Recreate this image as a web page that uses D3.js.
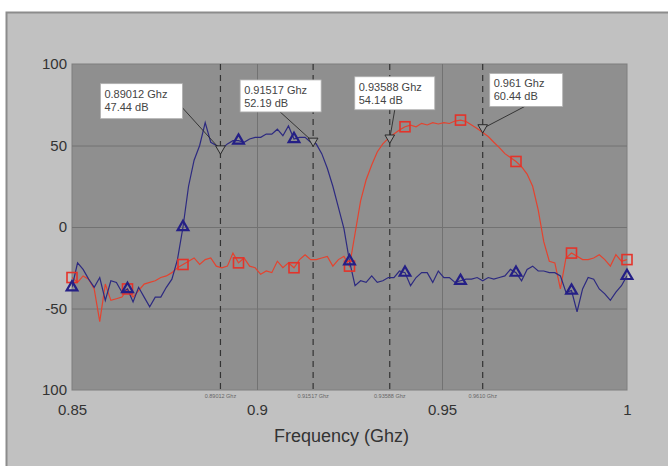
<!DOCTYPE html>
<html>
<head>
<meta charset="utf-8">
<script src="https://cdn.jsdelivr.net/npm/d3@7"></script>
<style>
	body { margin: 0; background: #fff; }
	text { font-family: "Liberation Sans", Arial, sans-serif; }
</style>
</head>
<body>
<div id="wrapper"></div>
<script>
// sample grid 0.85 .. 1.0 Ghz, 101 points
const freqStart = 0.85
const freqStep = 0.0015

const blueDb = [
	-37, -22, -26, -32, -37, -31, -45, -33, -34, -40,
	-38, -46, -37, -43, -49, -43, -43, -37, -32, -20,
	0, 25, 41, 50, 64, 52, 50, 48, 51, 53,
	53, 52, 54, 55, 55, 57, 57, 60, 56, 62,
	54, 55, 55, 52, 51, 45, 36, 25, 12, -1,
	-21, -36, -33, -34, -30, -34, -33, -31, -31, -27,
	-28, -36, -31, -28, -28, -34, -27, -31, -31, -34,
	-33, -32, -32, -31, -33, -31, -32, -31, -30, -26,
	-28, -33, -26, -24, -27, -27, -28, -28, -30, -40,
	-39, -52, -38, -31, -32, -38, -41, -45, -40, -36,
	-30
]

const redDb = [
	-31, -34, -30, -32, -38, -58, -35, -45, -44, -43,
	-38, -43, -39, -35, -34, -33, -31, -30, -28, -25,
	-23, -21, -19, -23, -20, -19, -24, -25, -24, -16,
	-22, -19, -24, -25, -29, -27, -28, -21, -25, -22,
	-25, -20, -17, -20, -20, -19, -18, -24, -20, -18,
	-24, -4, 16, 29, 38, 46, 51, 54.4, 57, 59.5,
	61.5, 62.5, 61.5, 63.6, 62.6, 64, 63.2, 64, 63.5, 65,
	65.6, 64.7, 62.6, 60.4, 58, 55.5, 52, 48.7, 45, 42.6,
	40.2, 37, 32.5, 25, 10.5, -9, -21, -22, -38, -19,
	-16, -18, -20, -20, -19, -17, -20, -24, -17, -21,
	-20
]

const markerEvery = 10

const cursorFreqs = [0.89012, 0.91517, 0.93588, 0.961]
const cursorDb = [47.44, 52.19, 54.14, 60.44]
const cursorFreqText = ['0.89012 Ghz', '0.91517 Ghz', '0.93588 Ghz', '0.961 Ghz']
const cursorDbText = ['47.44 dB', '52.19 dB', '54.14 dB', '60.44 dB']
const cursorAxisText = ['0.89012 Ghz', '0.91517  Ghz', '0.93588 Ghz', '0.9610 Ghz']

const xTicks = [0.85, 0.9, 0.95, 1]
const xTickLabels = ['0.85', '0.9', '0.95', '1']
const yTicks = [100, 50, 0, -50, -100]
const yTickLabels = ['100', '50', '0', '-50', '100']

// callout box layout (offsets from cursor point, px)
const boxLayout = [
	{dx: -120, dy: -66, w: 82, h: 35, lx: -39, ly: -43},
	{dx: -73, dy: -62, w: 81, h: 32, lx: -33, ly: -30},
	{dx: -35, dy: -62, w: 80, h: 33, lx: 5, ly: -29},
	{dx: 7, dy: -55, w: 73, h: 33, lx: 42, ly: -22}
]

const dimensions = {
	width: 668,
	height: 466,
	margin: {top: 64, right: 41, bottom: 76, left: 72}
}
dimensions.boundedWidth = dimensions.width - dimensions.margin.left - dimensions.margin.right
dimensions.boundedHeight = dimensions.height - dimensions.margin.top - dimensions.margin.bottom

const svg = d3.select('#wrapper')
	.append('svg')
		.attr('width', dimensions.width)
		.attr('height', dimensions.height)

// outer panel
svg.append('rect')
	.attr('x', 6.5)
	.attr('y', 12.5)
	.attr('width', 680)
	.attr('height', 480)
	.attr('fill', '#c1c1c1')
	.attr('stroke', '#8c8c8c')
	.attr('stroke-width', 2)

const bounds = svg.append('g')
	.attr('transform', `translate(${dimensions.margin.left},${dimensions.margin.top})`)

const xScale = d3.scaleLinear()
	.domain([0.85, 1])
	.range([0, dimensions.boundedWidth])

const yScale = d3.scaleLinear()
	.domain([-100, 100])
	.range([dimensions.boundedHeight, 0])

bounds.append('rect')
	.attr('width', dimensions.boundedWidth)
	.attr('height', dimensions.boundedHeight)
	.attr('fill', '#8f8f8f')
	.attr('stroke', '#7e7e7e')

// grid
bounds.append('g')
	.call(d3.axisLeft(yScale).tickValues([50, 0, -50]).tickSize(-dimensions.boundedWidth).tickFormat(''))
	.call(g => g.select('.domain').remove())
	.selectAll('line').attr('stroke', '#727272')

bounds.append('g')
	.attr('transform', `translate(0,${dimensions.boundedHeight})`)
	.call(d3.axisBottom(xScale).tickValues([0.9, 0.95]).tickSize(dimensions.boundedHeight).tickFormat(''))
	.call(g => g.select('.domain').remove())
	.selectAll('line').attr('y2', -dimensions.boundedHeight).attr('stroke', '#727272')

// cursor dashed lines
bounds.selectAll('.cursorLine')
	.data(cursorFreqs)
	.join('line')
		.attr('x1', d => xScale(d))
		.attr('x2', d => xScale(d))
		.attr('y1', 0)
		.attr('y2', dimensions.boundedHeight)
		.attr('stroke', '#333')
		.attr('stroke-width', 1.2)
		.attr('stroke-dasharray', '6,5')

bounds.append('clipPath').attr('id', 'clip')
	.append('rect')
		.attr('width', dimensions.boundedWidth)
		.attr('height', dimensions.boundedHeight)

const freqAt = i => freqStart + i * freqStep

const lineGen = d3.line()
	.x((d, i) => xScale(freqAt(i)))
	.y(d => yScale(d))

const plot = bounds.append('g').attr('clip-path', 'url(#clip)')

plot.append('path')
	.datum(redDb)
	.attr('d', lineGen)
	.attr('fill', 'none')
	.attr('stroke', '#e4432f')
	.attr('stroke-width', 1.2)

plot.append('path')
	.datum(blueDb)
	.attr('d', lineGen)
	.attr('fill', 'none')
	.attr('stroke', '#2d2a80')
	.attr('stroke-width', 1.2)

const markIdx = d3.range(0, redDb.length, markerEvery)

bounds.selectAll('.sq')
	.data(markIdx)
	.join('rect')
		.attr('x', i => xScale(freqAt(i)) - 5)
		.attr('y', i => yScale(redDb[i]) - 5)
		.attr('width', 10)
		.attr('height', 10)
		.attr('fill', 'none')
		.attr('stroke', '#e4332a')
		.attr('stroke-width', 1.6)

const tri = d3.symbol().type(d3.symbolTriangle).size(50)
bounds.selectAll('.tri')
	.data(markIdx)
	.join('path')
		.attr('d', tri)
		.attr('transform', i => `translate(${xScale(freqAt(i))},${yScale(blueDb[i])})`)
		.attr('fill', 'none')
		.attr('stroke', '#241f86')
		.attr('stroke-width', 2.2)

// cursor callouts
const callouts = bounds.selectAll('.callout')
	.data(cursorFreqs)
	.join('g')
		.attr('transform', (d, i) => `translate(${xScale(d)},${yScale(cursorDb[i])})`)

callouts.append('line')
	.attr('x1', (d, i) => boxLayout[i].lx)
	.attr('y1', (d, i) => boxLayout[i].ly)
	.attr('x2', 0)
	.attr('y2', 0)
	.attr('stroke', '#2a2a2a')
	.attr('stroke-width', 0.9)

callouts.append('path')
	.attr('d', d3.symbol().type(d3.symbolTriangle).size(40))
	.attr('transform', 'translate(0,-1) rotate(180)')
	.attr('fill', '#9a9a9a')
	.attr('stroke', '#2a2a2a')
	.attr('stroke-width', 1)

callouts.append('rect')
	.attr('x', (d, i) => boxLayout[i].dx)
	.attr('y', (d, i) => boxLayout[i].dy)
	.attr('width', (d, i) => boxLayout[i].w)
	.attr('height', (d, i) => boxLayout[i].h)
	.attr('fill', '#ffffff')
	.attr('stroke', '#b0b0b0')
	.attr('stroke-width', 0.8)

callouts.append('text')
	.attr('x', (d, i) => boxLayout[i].dx + 4)
	.attr('y', (d, i) => boxLayout[i].dy + 14)
	.attr('font-size', 11)
	.attr('fill', '#444')
	.text((d, i) => cursorFreqText[i])

callouts.append('text')
	.attr('x', (d, i) => boxLayout[i].dx + 4)
	.attr('y', (d, i) => boxLayout[i].dy + 27)
	.attr('font-size', 11)
	.attr('fill', '#444')
	.text((d, i) => cursorDbText[i])

// small cursor labels under the plot
bounds.selectAll('.cursorLabel')
	.data(cursorFreqs)
	.join('text')
		.attr('x', d => xScale(d))
		.attr('y', dimensions.boundedHeight + 8)
		.attr('text-anchor', 'middle')
		.attr('font-size', 5.5)
		.attr('fill', '#666')
		.text((d, i) => cursorAxisText[i])

// axes
const yAxis = bounds.append('g')
	.call(d3.axisLeft(yScale)
		.tickValues(yTicks)
		.tickSize(0)
		.tickPadding(5)
		.tickFormat((d, i) => yTickLabels[i]))
yAxis.select('.domain').remove()
yAxis.selectAll('text')
	.attr('font-size', 15)
	.attr('fill', '#333')
	.style('font-family', '"Liberation Sans", Arial, sans-serif')

const xAxis = bounds.append('g')
	.attr('transform', `translate(0,${dimensions.boundedHeight})`)
	.call(d3.axisBottom(xScale)
		.tickValues(xTicks)
		.tickSize(0)
		.tickPadding(14)
		.tickFormat((d, i) => xTickLabels[i]))
xAxis.select('.domain').remove()
xAxis.selectAll('text')
	.attr('font-size', 15)
	.attr('fill', '#333')
	.style('font-family', '"Liberation Sans", Arial, sans-serif')

bounds.append('text')
	.attr('x', dimensions.boundedWidth / 2 - 8)
	.attr('y', dimensions.boundedHeight + 52)
	.attr('text-anchor', 'middle')
	.attr('font-size', 18)
	.attr('fill', '#333')
	.text('Frequency (Ghz)')
</script>
</body>
</html>
